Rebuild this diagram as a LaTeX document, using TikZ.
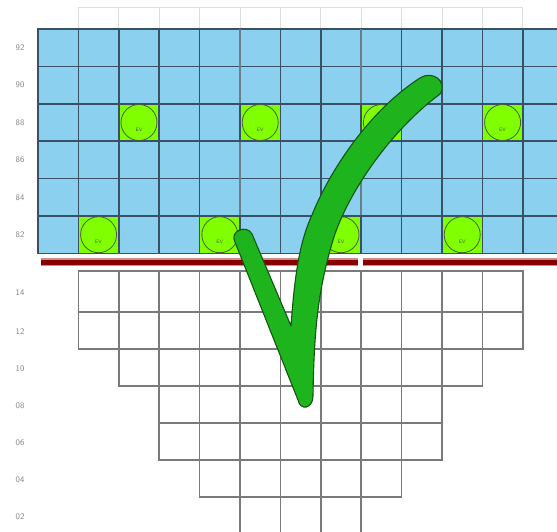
\documentclass[tikz,border=0pt]{standalone}
\usepackage{tikz}

\definecolor{cellblue}{RGB}{140,208,240}
\definecolor{gridline}{RGB}{58,80,100}
\definecolor{evgreen}{RGB}{128,255,0}
\definecolor{evline}{RGB}{72,96,52}
\definecolor{barred}{RGB}{135,0,0}
\definecolor{baredge}{RGB}{205,140,140}
\definecolor{tickgreen}{RGB}{30,180,30}
\definecolor{tickdark}{RGB}{18,86,18}
\definecolor{lblgray}{RGB}{135,135,135}

\begin{document}
\begin{tikzpicture}[x=1pt,y=-1pt,font=\sffamily,
  cell/.style={fill=cellblue,draw=gridline,line width=1.6pt},
  evcell/.style={fill=evgreen,draw=gridline,line width=1.6pt},
  evdot/.style={circle,draw=evline,line width=0.8pt,minimum size=36pt,inner sep=0pt},
  evtxt/.style={font=\sffamily\fontsize{5}{5}\selectfont,text=evline,inner sep=0pt},
  sep/.style={draw=gridline!75,line width=2pt},
  topcell/.style={draw=black!13,line width=0.8pt},
  lowcell/.style={draw=black!52,line width=1.5pt},
  bar/.style={line width=7.5pt,draw=baredge},
  barcore/.style={line width=5pt,draw=barred},
  rowlbl/.style={font=\sffamily\fontsize{8.5}{8.5}\selectfont,text=lblgray,inner sep=0pt},
  tick/.style={fill=tickgreen,draw=tickdark,line width=1.1pt,line join=round},
]

%% Layout parameters
\def\xo{38}      % left edge of the grid
\def\cw{40.4}    % column width
\def\yo{29}      % top edge of the blue grid
\def\rh{37.4}    % row height

\useasboundingbox (0,0) rectangle (557,531);
\clip (0,0) rectangle (557,531);

%% ---- empty header row ----
\foreach \i in {1,...,11}
  \draw[topcell] (\xo+\i*\cw,7) rectangle ++(\cw,22);

%% ================================================================
%%  upper (blue) grid
%% ================================================================
\foreach \j in {0,...,5}
  \foreach \i in {0,...,13}
    \draw[cell] (\xo+\i*\cw,\yo+\j*\rh) rectangle ++(\cw,\rh);

\draw[sep] (\xo+5*\cw,\yo) -- (\xo+5*\cw,\yo+6*\rh);
\draw[sep] (\xo+8*\cw,\yo) -- (\xo+8*\cw,\yo+6*\rh);

%% EV positions (column/row)
\foreach \i/\j in {2/2,5/2,8/2,11/2,1/5,4/5,7/5,10/5} {
  \draw[evcell] (\xo+\i*\cw,\yo+\j*\rh) rectangle ++(\cw,\rh);
  \node[evdot] (ev-\i-\j) at (\xo+\i*\cw+\cw/2,\yo+\j*\rh+\rh/2) {};
  \node[evtxt] (evt-\i-\j) at ([yshift=-7pt]ev-\i-\j.center) {EV};
}

\foreach \v [count=\k from 0] in {92,90,88,86,84,82}
  \node[rowlbl] (lbl-\v) at (20,\yo+\k*\rh+\rh/2) {\v};

%% ---- divider bar ----
\draw[bar] (41,262) -- (358,262);
\draw[bar] (363,262) -- (560,262);
\draw[barcore] (41,262) -- (358,262);
\draw[barcore] (363,262) -- (560,262);

%% ================================================================
%%  lower (stepped) grid
%% ================================================================
\foreach \top/\bot/\a/\b in {271/312/1/11,312/349/1/11,349/386/2/10,
    386/423/3/9,423/460/3/9,460/497/4/8,497/545/5/7}
  \foreach \i in {\a,...,\b}
    \draw[lowcell] (\xo+\i*\cw,\top) rectangle (\xo+\i*\cw+\cw,\bot);

\foreach \v/\y in {14/293,12/332,10/369,08/406,06/443,04/480,02/517}
  \node[rowlbl] (lbl-\v) at (20,\y) {\v};

%% ---- tick mark ----
\filldraw[tick] (235,242)
  .. controls (229,231) and (247,224) .. (252,234)
  -- (291,326)
  .. controls (294,285) and (298,245) .. (312,215)
  .. controls (330,170) and (370,110) .. (420,78)
  .. controls (432,70) and (448,81) .. (440,94)
  .. controls (385,135) and (345,200) .. (333,240)
  .. controls (318,290) and (314,330) .. (313,396)
  .. controls (313,409) and (300,411) .. (298,400)
  -- cycle;

\end{tikzpicture}
\end{document}
